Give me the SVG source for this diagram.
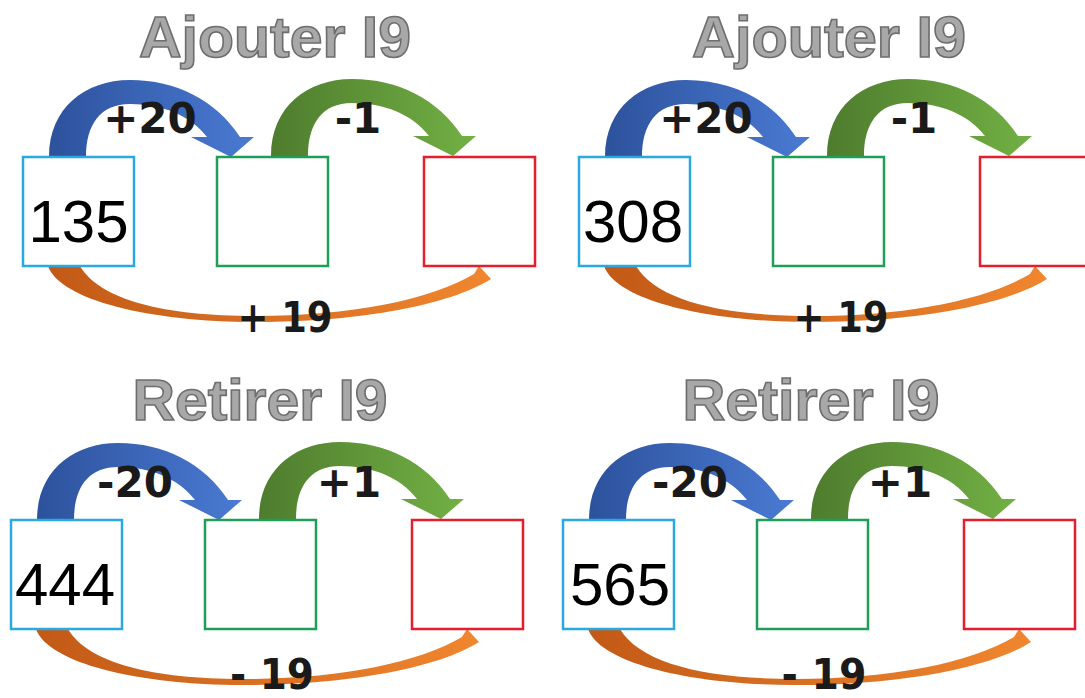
<svg xmlns="http://www.w3.org/2000/svg" xmlns:xlink="http://www.w3.org/1999/xlink" width="1085" height="698" viewBox="0 0 1085 698">
<style>
.title{font-family:"Liberation Sans",Arial,sans-serif;font-weight:bold;font-size:58px;fill:#a8a8a8;stroke:#6e6e6e;stroke-width:1.6px;text-anchor:middle}
.lbl{font-family:"DejaVu Sans",sans-serif;font-weight:bold;font-size:42px;fill:#1a1a1a;text-anchor:middle}
.num{font-family:"Liberation Sans",Arial,sans-serif;font-size:60px;fill:#000;text-anchor:middle}
.bx{fill:#fff;stroke-width:2.5px}
.b1{stroke:#2aa9e0}
.b2{stroke:#1f9e57}
.b3{stroke:#e41f2d}
</style>
<defs>
<linearGradient id="gBlue" x1="0" y1="0" x2="1" y2="0"><stop offset="0" stop-color="#2d529c"/><stop offset="1" stop-color="#4a7ad3"/></linearGradient>
<linearGradient id="gGreen" x1="0" y1="0" x2="1" y2="0"><stop offset="0" stop-color="#4e7c2e"/><stop offset="1" stop-color="#72b044"/></linearGradient>
<linearGradient id="gOrange" x1="0" y1="0" x2="1" y2="0"><stop offset="0" stop-color="#c25a17"/><stop offset="1" stop-color="#f0862e"/></linearGradient>
<path id="arc" d="M49,157 C49,108 85,80 130,80 C176,80 216,100 240,137 L254,137 L231,157 L191,137 L207,137 C190,115 162,104 130,104 C100,104 86,125 86,157 Z"/>
<path id="low" d="M48,266 C60,300 150,322 255,322 C360,322 450,305 491,279 L479,266 L474,274 C430,300 350,316 255,316 C165,316 100,300 80,266 Z"/>
</defs>
<rect width="1085" height="698" fill="#fff"/>

<!-- titles -->
<text class="title" x="275" y="57" textLength="272" lengthAdjust="spacingAndGlyphs">Ajouter I9</text>
<text class="title" x="829" y="57" textLength="274" lengthAdjust="spacingAndGlyphs">Ajouter I9</text>
<text class="title" x="260" y="420" textLength="255" lengthAdjust="spacingAndGlyphs">Retirer I9</text>
<text class="title" x="811" y="420" textLength="257" lengthAdjust="spacingAndGlyphs">Retirer I9</text>

<!-- connectors -->
<g id="connectors">
  <g transform="translate(0,0)">
    <use href="#arc" fill="url(#gBlue)"/>
    <use href="#arc" fill="url(#gGreen)" transform="translate(222,-1)"/>
    <use href="#low" fill="url(#gOrange)"/>
  </g>
  <g transform="translate(556,0)">
    <use href="#arc" fill="url(#gBlue)"/>
    <use href="#arc" fill="url(#gGreen)" transform="translate(222,-1)"/>
    <use href="#low" fill="url(#gOrange)"/>
  </g>
  <g transform="translate(-12,363)">
    <use href="#arc" fill="url(#gBlue)"/>
    <use href="#arc" fill="url(#gGreen)" transform="translate(222,-1)"/>
    <use href="#low" fill="url(#gOrange)"/>
  </g>
  <g transform="translate(540,363)">
    <use href="#arc" fill="url(#gBlue)"/>
    <use href="#arc" fill="url(#gGreen)" transform="translate(222,-1)"/>
    <use href="#low" fill="url(#gOrange)"/>
  </g>
  <text class="lbl" x="150" y="133">+20</text>
  <text class="lbl" x="358" y="133">-1</text>
  <text class="lbl" x="285" y="332" textLength="95" lengthAdjust="spacingAndGlyphs">+ 19</text>
  <text class="lbl" x="706" y="133">+20</text>
  <text class="lbl" x="914" y="133">-1</text>
  <text class="lbl" x="841" y="332" textLength="95" lengthAdjust="spacingAndGlyphs">+ 19</text>
  <text class="lbl" x="135" y="497">-20</text>
  <text class="lbl" x="349" y="497">+1</text>
  <text class="lbl" x="272" y="689" textLength="84" lengthAdjust="spacingAndGlyphs">- 19</text>
  <text class="lbl" x="690" y="497">-20</text>
  <text class="lbl" x="900" y="497">+1</text>
  <text class="lbl" x="824" y="689" textLength="85" lengthAdjust="spacingAndGlyphs">- 19</text>
</g>

<!-- nodes -->
<g id="p1-start"><rect class="bx b1" x="23" y="157" width="111" height="109"/><text class="num" x="78.5" y="242">135</text></g>
<g id="p1-mid"><rect class="bx b2" x="217" y="157" width="111" height="109"/></g>
<g id="p1-end"><rect class="bx b3" x="424" y="157" width="111" height="109"/></g>

<g id="p2-start"><rect class="bx b1" x="579" y="157" width="111" height="109"/><text class="num" x="633" y="242">308</text></g>
<g id="p2-mid"><rect class="bx b2" x="773" y="157" width="111" height="109"/></g>
<g id="p2-end"><rect class="bx b3" x="980" y="157" width="111" height="109"/></g>

<g id="p3-start"><rect class="bx b1" x="11" y="520" width="111" height="109"/><text class="num" x="65" y="605">444</text></g>
<g id="p3-mid"><rect class="bx b2" x="205" y="520" width="111" height="109"/></g>
<g id="p3-end"><rect class="bx b3" x="412" y="520" width="111" height="109"/></g>

<g id="p4-start"><rect class="bx b1" x="563" y="520" width="111" height="109"/><text class="num" x="620" y="605">565</text></g>
<g id="p4-mid"><rect class="bx b2" x="757" y="520" width="111" height="109"/></g>
<g id="p4-end"><rect class="bx b3" x="964" y="520" width="111" height="109"/></g>
</svg>
